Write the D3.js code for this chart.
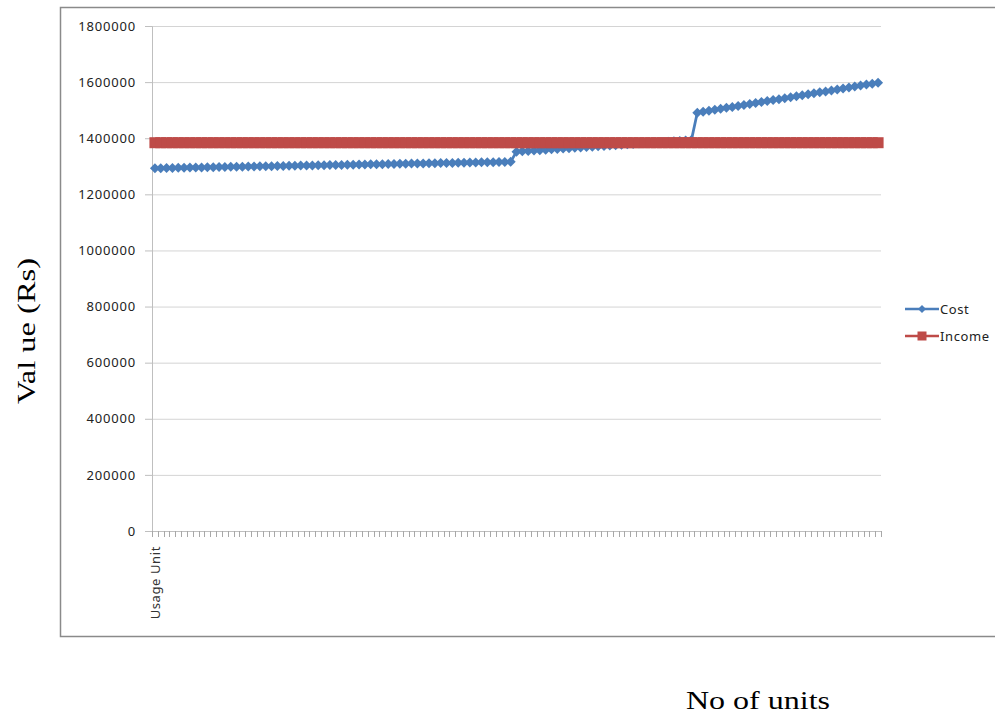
<!DOCTYPE html>
<html>
<head>
<meta charset="utf-8">
<script src="https://cdn.jsdelivr.net/npm/d3@7"></script>
<style>
  html, body { margin: 0; padding: 0; background: #fff; }
  svg { display: block; }
</style>
</head>
<body>
<svg id="chart" width="995" height="718"></svg>
<script>
// ---------- DATA ----------
const seriesNames = ["Cost", "Income"];
const yTicks = [0, 200000, 400000, 600000, 800000, 1000000, 1200000, 1400000, 1600000, 1800000];

const cost = [
  // first band
  1293000,1293375,1293750,1294125,1294500,1294875,1295250,1295625,1296000,1296375,
  1296750,1297125,1297500,1297875,1298250,1298625,1299000,1299375,1299750,1300125,
  1300500,1300875,1301250,1301625,1302000,1302375,1302750,1303125,1303500,1303875,
  1304250,1304625,1305000,1305375,1305750,1306125,1306500,1306875,1307250,1307625,
  1308000,1308375,1308750,1309125,1309500,1309875,1310250,1310625,1311000,1311375,
  1311750,1312125,1312500,1312875,1313250,1313625,1314000,1314375,1314750,1315125,
  1315500,1315875,
  // second band
  1352000,1353375,1354750,1356125,1357500,1358875,1360250,1361625,1363000,1364375,
  1365750,1367125,1368500,1369875,1371250,1372625,1374000,1375375,1376750,1378125,
  1379500,1380875,1382250,1383625,1385000,1386375,1387750,1389125,1390500,1391875,
  1394000,
  // third band
  1491000,1494450,1497900,1501350,1504800,1508250,1511700,1515150,1518600,1522050,
  1525500,1528950,1532400,1535850,1539300,1542750,1546200,1549650,1553100,1556550,
  1560000,1563450,1566900,1570350,1573800,1577250,1580700,1584150,1587600,1591050,
  1594500,1597950
];

const incomeLevel = 1384000;
const income = cost.map(() => incomeLevel);

const categories = cost.map((d, i) => i === 0 ? "Usage Unit" : "");

// ---------- LAYOUT ----------
const svg = d3.select("#chart");
const plot = { left: 152, right: 881, top: 26, bottom: 531 };
const blue = "#4a7ebb";
const red = "#be4b48";
const labelFont = "'Noto Sans', 'Open Sans', sans-serif";
const serif = "'Liberation Serif', 'Times New Roman', serif";

// outer chart border
svg.append("rect")
  .attr("x", 60.5).attr("y", 7.5)
  .attr("width", 945).attr("height", 629)
  .attr("fill", "#fff")
  .attr("stroke", "#8a8a8a")
  .attr("stroke-width", 1.5);

const x = d3.scaleBand()
  .domain(d3.range(categories.length))
  .range([plot.left, plot.right])
  .paddingInner(0).paddingOuter(0);

const y = d3.scaleLinear()
  .domain([0, 1800000])
  .range([plot.bottom, plot.top]);

// gridlines
svg.append("g")
  .selectAll("line")
  .data(yTicks.filter(d => d > 0))
  .join("line")
  .attr("x1", plot.left).attr("x2", plot.right)
  .attr("y1", d => y(d) + 0.5).attr("y2", d => y(d) + 0.5)
  .attr("stroke", "#d4d4d4")
  .attr("stroke-width", 1);

// y axis
const yAxis = d3.axisLeft(y)
  .tickValues(yTicks)
  .tickFormat(d3.format("d"))
  .tickSize(7)
  .tickPadding(9);

const gy = svg.append("g")
  .attr("transform", `translate(${plot.left},0)`)
  .call(yAxis);
gy.select(".domain").attr("stroke", "#bfbfbf");
gy.selectAll(".tick line").attr("stroke", "#bfbfbf");
gy.selectAll(".tick text")
  .attr("font-family", labelFont)
  .attr("font-size", 13)
  .attr("letter-spacing", 0.8)
  .attr("fill", "#222");

// x axis (category ticks between categories)
const xBoundaries = d3.range(categories.length + 1).map(i => plot.left + i * x.bandwidth());
const gx = svg.append("g");
gx.append("line")
  .attr("x1", plot.left).attr("x2", plot.right)
  .attr("y1", plot.bottom + 0.5).attr("y2", plot.bottom + 0.5)
  .attr("stroke", "#bfbfbf");
gx.selectAll("line.tk")
  .data(xBoundaries)
  .join("line")
  .attr("class", "tk")
  .attr("x1", d => Math.round(d) + 0.5).attr("x2", d => Math.round(d) + 0.5)
  .attr("y1", plot.bottom).attr("y2", plot.bottom + 6)
  .attr("stroke", "#a8a8a8");
gx.selectAll("text")
  .data(categories.map((c, i) => ({ c, i })).filter(d => d.c !== ""))
  .join("text")
  .attr("transform", d => `translate(${x(d.i) + x.bandwidth() / 2 + 5},${plot.bottom + 15}) rotate(-90)`)
  .attr("text-anchor", "end")
  .attr("font-family", labelFont)
  .attr("font-size", 13)
  .attr("letter-spacing", 0.6)
  .attr("fill", "#333")
  .text(d => d.c);

// ---------- SERIES ----------
const cx = i => x(i) + x.bandwidth() / 2;
const line = d3.line().x((d, i) => cx(i)).y(d => y(d));
const diamondPath = r => `M0,${-r}L${r},0L0,${r}L${-r},0Z`;

// Cost
svg.append("path")
  .datum(cost)
  .attr("d", line)
  .attr("fill", "none")
  .attr("stroke", blue)
  .attr("stroke-width", 2.75);
svg.append("g").selectAll("path")
  .data(cost)
  .join("path")
  .attr("d", diamondPath(5))
  .attr("transform", (d, i) => `translate(${cx(i)},${y(d)})`)
  .attr("fill", blue);

// Income (drawn on top)
svg.append("path")
  .datum(income)
  .attr("d", line)
  .attr("fill", "none")
  .attr("stroke", red)
  .attr("stroke-width", 2.5);
svg.append("g").selectAll("rect")
  .data(income)
  .join("rect")
  .attr("x", (d, i) => cx(i) - 5.5)
  .attr("y", d => y(d) - 5.5)
  .attr("width", 11).attr("height", 11)
  .attr("fill", red);

// ---------- LEGEND ----------
const legend = svg.append("g")
  .attr("font-family", labelFont)
  .attr("font-size", 13)
  .attr("letter-spacing", 0.6)
  .attr("fill", "#222");
const legItems = [
  { name: seriesNames[0], color: blue, y: 309, shape: "diamond" },
  { name: seriesNames[1], color: red, y: 336, shape: "square" }
];
legItems.forEach(it => {
  legend.append("line")
    .attr("x1", 905).attr("x2", 939)
    .attr("y1", it.y).attr("y2", it.y)
    .attr("stroke", it.color).attr("stroke-width", 2.5);
  if (it.shape === "diamond") {
    legend.append("path")
      .attr("d", diamondPath(4))
      .attr("transform", `translate(922,${it.y})`)
      .attr("fill", it.color);
  } else {
    legend.append("rect")
      .attr("x", 917.5).attr("y", it.y - 4.5)
      .attr("width", 9).attr("height", 9)
      .attr("fill", it.color);
  }
  legend.append("text")
    .attr("x", 940).attr("y", it.y + 5)
    .text(it.name);
});

// ---------- AXIS TITLES ----------
svg.append("text")
  .attr("transform", "translate(35,331) rotate(-90)")
  .attr("text-anchor", "middle")
  .attr("font-family", serif)
  .attr("font-size", 25)
  .attr("textLength", 146)
  .attr("lengthAdjust", "spacingAndGlyphs")
  .attr("fill", "#000")
  .text("Val ue (Rs)");

svg.append("text")
  .attr("x", 758).attr("y", 709)
  .attr("text-anchor", "middle")
  .attr("font-family", serif)
  .attr("font-size", 25)
  .attr("textLength", 144)
  .attr("lengthAdjust", "spacingAndGlyphs")
  .attr("fill", "#000")
  .text("No of units");
</script>
</body>
</html>
